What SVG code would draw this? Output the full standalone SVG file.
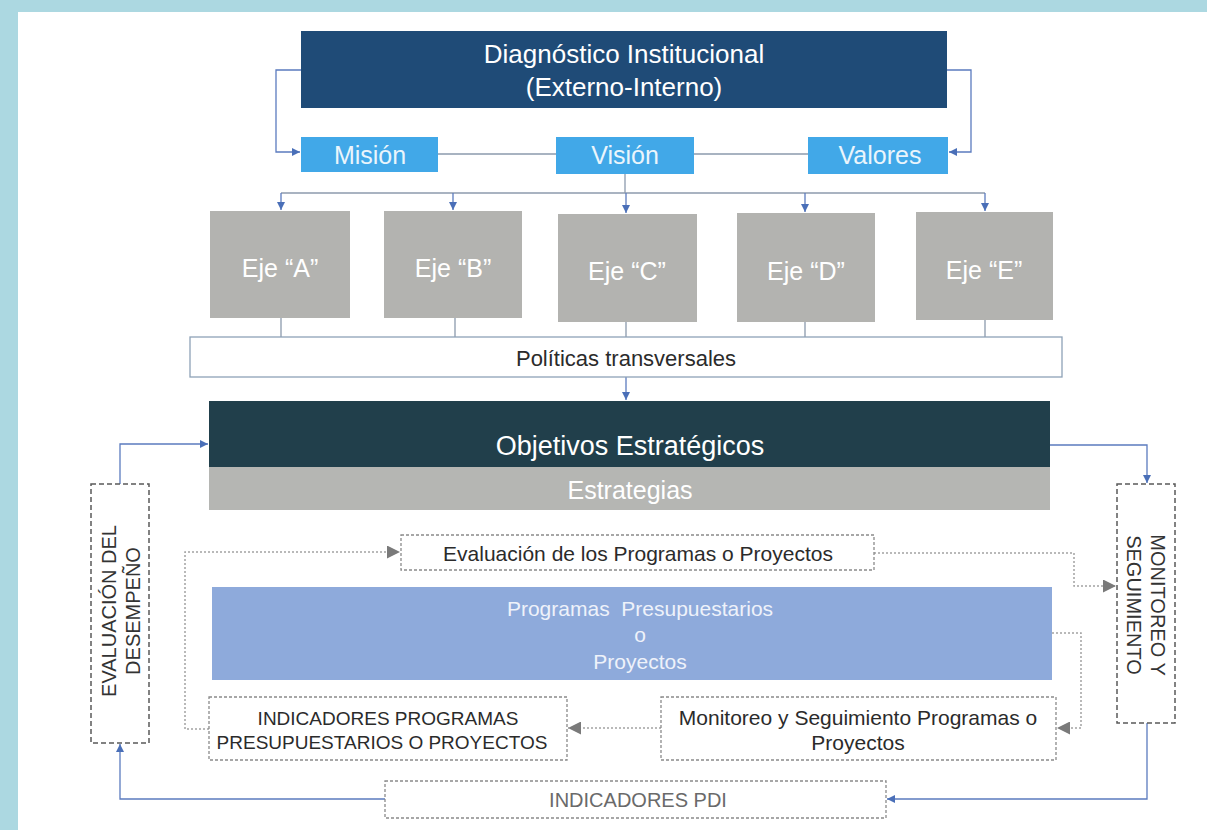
<svg xmlns="http://www.w3.org/2000/svg" width="1207" height="830" viewBox="0 0 1207 830">
<defs>
<style>
.t{font-family:"Liberation Sans",Arial,sans-serif;text-anchor:middle;dominant-baseline:central}
.w{fill:#ffffff}
.k{fill:#2b2b2b}
.dash{fill:#ffffff;stroke:#5a5a5a;stroke-width:1.5;stroke-dasharray:5 3}
.dot{fill:#ffffff;stroke:#8a8a8a;stroke-width:1.3;stroke-dasharray:3 2}
.ln{fill:none;stroke:#8c9aad;stroke-width:1.3}
.lb{fill:none;stroke:#5b7bbf;stroke-width:1.3}
.ld{fill:none;stroke:#a3a3a3;stroke-width:1.5;stroke-dasharray:2 2}
</style>
<marker id="ab" viewBox="0 0 10 10" refX="10" refY="5" markerWidth="8" markerHeight="8" orient="auto" markerUnits="userSpaceOnUse">
<path d="M0,0 L10,5 L0,10 z" fill="#4a6fb8"/>
</marker>
<marker id="ag" viewBox="0 0 10 10" refX="10" refY="5" markerWidth="13" markerHeight="13" orient="auto" markerUnits="userSpaceOnUse">
<path d="M0,0 L10,5 L0,10 z" fill="#7a7a7a"/>
</marker>
</defs>
<rect x="0" y="0" width="1207" height="830" fill="#acd8e1"/>
<rect x="18" y="12" width="1189" height="818" fill="#ffffff"/>

<g id="connectors">
<path class="lb" d="M301,70 H276 V152 H300" marker-end="url(#ab)"/>
<path class="lb" d="M947,70 H971 V152 H949" marker-end="url(#ab)"/>
<path class="ln" d="M438,154 H556 M694,154 H808"/>
<path class="ln" d="M625,174 V193"/>
<path class="ln" d="M281,193 H985"/>
<path class="lb" d="M281,193 V210" marker-end="url(#ab)"/>
<path class="lb" d="M453,193 V210" marker-end="url(#ab)"/>
<path class="lb" d="M626,193 V213" marker-end="url(#ab)"/>
<path class="lb" d="M805,193 V212" marker-end="url(#ab)"/>
<path class="lb" d="M985,193 V211" marker-end="url(#ab)"/>
<path class="ln" d="M281,318 V337 M455,318 V337 M626,322 V337 M805,322 V337 M985,320 V337"/>
<path class="lb" d="M626,377 V400" marker-end="url(#ab)"/>
<path class="lb" d="M120,484 V444 H208" marker-end="url(#ab)"/>
<path class="lb" d="M1050,445 H1147 V483" marker-end="url(#ab)"/>
<path class="ld" d="M874,553 H1074 V586 H1116" marker-end="url(#ag)"/>
<path class="ld" d="M1052,633 H1081 V728 H1057" marker-end="url(#ag)"/>
<path class="ld" d="M661,728 H568" marker-end="url(#ag)"/>
<path class="ld" d="M209,729 H185 V552 H400" marker-end="url(#ag)"/>
<path class="lb" d="M1147,723 V799 H887" marker-end="url(#ab)"/>
<path class="lb" d="M385,799 H120 V744" marker-end="url(#ab)"/>
</g>

<g id="diagnostico">
<rect x="301" y="31" width="646" height="77" fill="#1f4b77"/>
<text class="t w" x="624" y="54" font-size="26">Diagnóstico Institucional</text>
<text class="t w" x="624" y="87" font-size="26">(Externo-Interno)</text>
</g>
<g id="mision">
<rect x="301" y="137" width="137" height="35" fill="#41a8e8"/>
<text class="t" x="370" y="155" font-size="25" fill="#eaf5fc">Misión</text>
</g>
<g id="vision">
<rect x="556" y="137" width="138" height="37" fill="#41a8e8"/>
<text class="t" x="625" y="155" font-size="25" fill="#eaf5fc">Visión</text>
</g>
<g id="valores">
<rect x="808" y="137" width="140" height="37" fill="#41a8e8"/>
<text class="t" x="880" y="155" font-size="25" fill="#eaf5fc">Valores</text>
</g>

<g id="eje-a">
<rect x="210" y="211" width="140" height="107" fill="#b3b3b0"/>
<text class="t w" x="280" y="268" font-size="25">Eje “A”</text>
</g>
<g id="eje-b">
<rect x="384" y="211" width="138" height="107" fill="#b3b3b0"/>
<text class="t w" x="453" y="268" font-size="25">Eje “B”</text>
</g>
<g id="eje-c">
<rect x="558" y="214" width="139" height="108" fill="#b3b3b0"/>
<text class="t w" x="627" y="271" font-size="25">Eje “C”</text>
</g>
<g id="eje-d">
<rect x="737" y="213" width="138" height="109" fill="#b3b3b0"/>
<text class="t w" x="806" y="271" font-size="25">Eje “D”</text>
</g>
<g id="eje-e">
<rect x="916" y="212" width="137" height="108" fill="#b3b3b0"/>
<text class="t w" x="984" y="270" font-size="25">Eje “E”</text>
</g>

<g id="politicas">
<rect x="190" y="337" width="872" height="40" fill="#ffffff" stroke="#8ea2b7" stroke-width="1.3"/>
<text class="t k" x="626" y="358" font-size="22">Políticas transversales</text>
</g>

<g id="objetivos">
<rect x="209" y="401" width="841" height="66" fill="#213f4b"/>
<text class="t w" x="630" y="446" font-size="27">Objetivos Estratégicos</text>
</g>
<g id="estrategias">
<rect x="209" y="467" width="841" height="43" fill="#b5b6b3"/>
<text class="t w" x="630" y="490" font-size="25">Estrategias</text>
</g>

<g id="evaluacion-desempeno">
<rect class="dash" x="91" y="484" width="58" height="259"/>
<text class="t" font-size="20" fill="#333" transform="translate(121,611) rotate(-90)"><tspan x="0" y="-12">EVALUACIÓN DEL</tspan><tspan x="0" y="12">DESEMPEÑO</tspan></text>
</g>

<g id="monitoreo-seguimiento">
<rect class="dash" x="1117" y="484" width="58" height="239"/>
<text class="t" font-size="20" fill="#333" transform="translate(1146,605) rotate(90)"><tspan x="0" y="-12">MONITOREO Y</tspan><tspan x="0" y="12">SEGUIMIENTO</tspan></text>
</g>

<g id="evaluacion-programas">
<rect class="dot" x="401" y="535" width="473" height="35"/>
<text class="t k" x="638" y="553" font-size="21">Evaluación de los Programas o Proyectos</text>
</g>

<g id="programas">
<rect x="212" y="587" width="840" height="93" fill="#8eaadb"/>
<text class="t" x="640" y="608" font-size="21" fill="#eef2fa" xml:space="preserve">Programas  Presupuestarios</text>
<text class="t" x="640" y="634" font-size="21" fill="#eef2fa">o</text>
<text class="t" x="640" y="661" font-size="21" fill="#eef2fa">Proyectos</text>
</g>

<g id="indicadores-programas">
<rect class="dot" x="209" y="697" width="358" height="63"/>
<text class="t k" x="388" y="718" font-size="19">INDICADORES PROGRAMAS</text>
<text class="t k" x="382" y="742" font-size="19">PRESUPUESTARIOS O PROYECTOS</text>
</g>

<g id="monitoreo-programas">
<rect class="dot" x="661" y="697" width="395" height="63"/>
<text class="t k" x="858" y="717" font-size="21">Monitoreo y Seguimiento Programas o</text>
<text class="t k" x="858" y="742" font-size="21">Proyectos</text>
</g>

<g id="indicadores-pdi">
<rect class="dot" x="385" y="781" width="501" height="37"/>
<text class="t" x="638" y="800" font-size="20" fill="#6a6a6a">INDICADORES PDI</text>
</g>
</svg>
